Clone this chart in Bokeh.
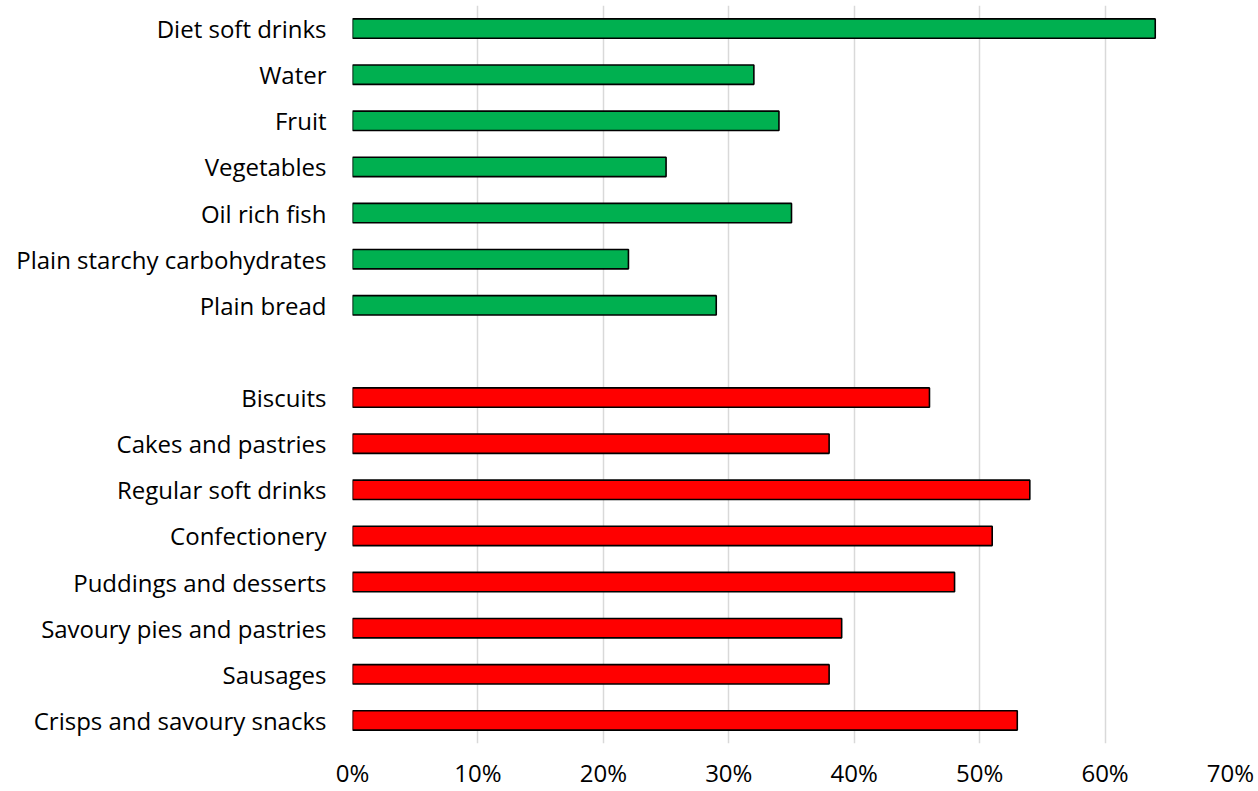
from bokeh.plotting import figure
from bokeh.models import Range1d, FixedTicker, PrintfTickFormatter
from bokeh.embed import file_html
from bokeh.resources import INLINE

# Share of purchases (%) by food category
healthy_items = ["Diet soft drinks", "Water", "Fruit", "Vegetables", "Oil rich fish",
                 "Plain starchy carbohydrates", "Plain bread"]
healthy_pct = [64, 32, 34, 25, 35, 22, 29]

less_healthy_items = ["Biscuits", "Cakes and pastries", "Regular soft drinks", "Confectionery",
                      "Puddings and desserts", "Savoury pies and pastries", "Sausages",
                      "Crisps and savoury snacks"]
less_healthy_pct = [46, 38, 54, 51, 48, 39, 38, 53]

x_ticks = [0, 10, 20, 30, 40, 50, 60, 70]

# Row slots from the bottom: less-healthy group, one blank spacer row, then healthy group
n_less = len(less_healthy_items)
n_healthy = len(healthy_items)
less_y = [n_less - 1 - i for i in range(n_less)]
healthy_y = [n_less + n_healthy - i for i in range(n_healthy)]
n_slots = n_less + 1 + n_healthy

FONT = "Open Sans"
BAR_H = 0.42

p = figure(width=1258, height=791, output_backend="svg", toolbar_location=None,
           x_range=Range1d(0, 70), y_range=Range1d(-0.5, n_slots - 0.5),
           min_border_left=352, min_border_right=28, min_border_top=5, min_border_bottom=48)

p.hbar(y=healthy_y, right=healthy_pct, left=0, height=BAR_H,
       fill_color="#00b050", line_color="#000000", line_width=1.6)
p.hbar(y=less_y, right=less_healthy_pct, left=0, height=BAR_H,
       fill_color="#ff0000", line_color="#000000", line_width=1.6)

p.outline_line_color = None
p.background_fill_color = "white"
p.border_fill_color = "white"

# x axis: percentages, no line or ticks
p.xaxis.ticker = FixedTicker(ticks=x_ticks)
p.xaxis.formatter = PrintfTickFormatter(format="%d%%")
p.xaxis.axis_line_color = None
p.xaxis.major_tick_line_color = None
p.xaxis.minor_tick_line_color = None
p.xaxis.major_label_text_font = FONT
p.xaxis.major_label_text_font_size = "24px"
p.xaxis.major_label_text_color = "#000000"
p.xaxis.major_label_text_baseline = "middle"
p.xaxis.major_label_standoff = 6

# y axis: category names
labels = {}
for y, name in zip(healthy_y, healthy_items):
    labels[y] = name
for y, name in zip(less_y, less_healthy_items):
    labels[y] = name
p.yaxis.ticker = FixedTicker(ticks=sorted(labels.keys()))
p.yaxis.major_label_overrides = labels
p.yaxis.axis_line_color = None
p.yaxis.major_tick_line_color = None
p.yaxis.minor_tick_line_color = None
p.yaxis.major_label_text_font = FONT
p.yaxis.major_label_text_font_size = "24px"
p.yaxis.major_label_text_color = "#000000"
p.yaxis.major_label_standoff = 20

p.xgrid.ticker = FixedTicker(ticks=x_ticks)
p.xgrid.grid_line_color = "#d9d9d9"
p.xgrid.grid_line_width = 1.5
p.ygrid.grid_line_color = None

open("out.html", "w").write(file_html(p, INLINE))
